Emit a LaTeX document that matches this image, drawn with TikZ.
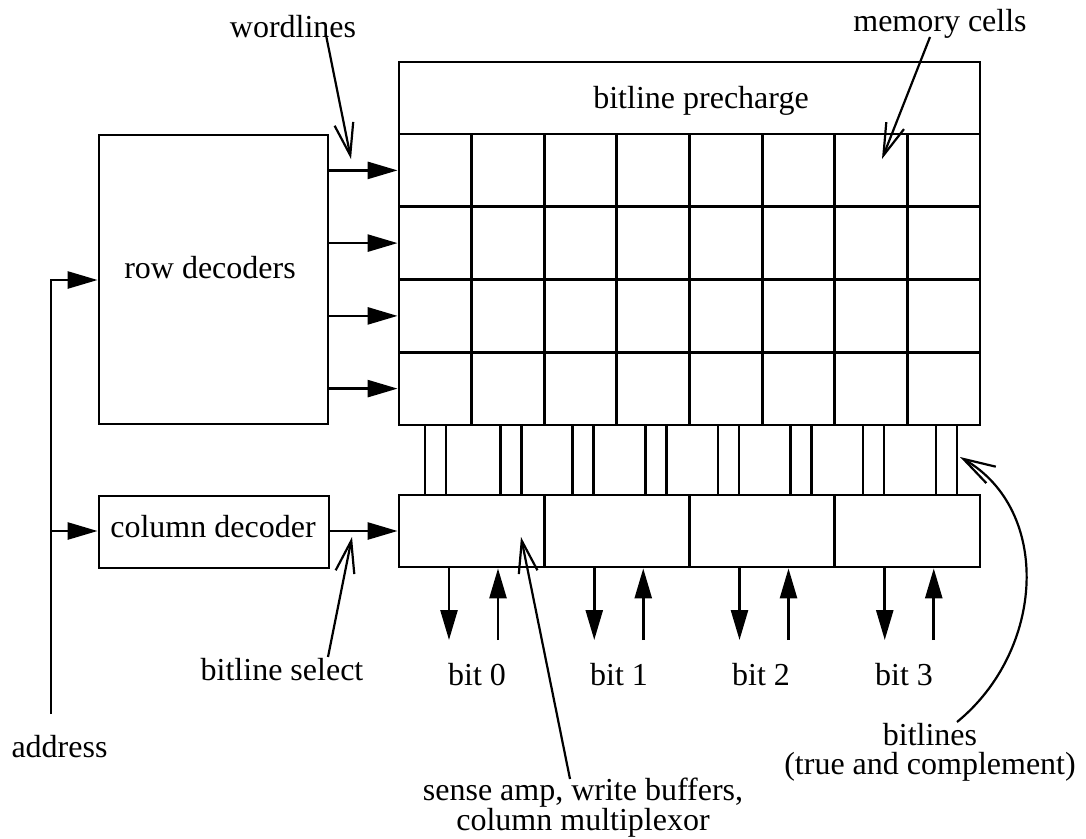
\documentclass[tikz,border=0pt]{standalone}
\usepackage{fontspec}
\setmainfont{Liberation Serif}
\usetikzlibrary{arrows.meta}
\begin{document}
\begin{tikzpicture}[x=1pt,y=-1pt,
  box/.style={draw, line width=2.8pt, inner sep=0pt},
  lbl/.style={inner sep=0pt, anchor=base, font=\fontsize{32}{36}\selectfont},
  sig/.style={line width=2.6pt, -{Triangle[length=30pt,width=17pt]}},
  ptr/.style={line width=2.2pt, -{Straight Barb[length=32pt,width=19pt,line width=2.2pt]}},
  gridline/.style={line width=2.8pt}]
\useasboundingbox (0,0) rectangle (1086,838);

% main blocks
\node[box, minimum width=229pt, minimum height=289pt] (rowdec) at (213.5,279.5) {};
\node[box, minimum width=230pt, minimum height=72pt] (coldec) at (214,532) {};
\node[box, minimum width=581pt, minimum height=72pt] (prech) at (689.5,98) {};
\node[box, minimum width=581pt, minimum height=291pt] (array) at (689.5,279.5) {};
\node[box, minimum width=581pt, minimum height=72pt] (sense) at (689.5,531) {};

% memory cell grid
\foreach \k in {1,...,7}
  \draw[gridline] ({399+72.625*\k},134) -- ({399+72.625*\k},425);
\foreach \y in {206.75,279.5,352.25}
  \draw[gridline] (399,\y) -- (980,\y);

% bitline pairs (true and complement)
\foreach \x in {425,500.5,572.7,645.5,718,790.6,863,936} {
  \draw[gridline] (\x,425) -- (\x,495);
  \draw[gridline] ({\x+21},425) -- ({\x+21},495);
}

% sense amp / write buffer slices
\foreach \x in {544.25,689.5,834.75}
  \draw[gridline] (\x,495) -- (\x,567);

% wordlines
\foreach \y in {170.4,243.1,315.9,388.6}
  \draw[sig] (rowdec.east |- 0,\y) -- (array.west |- 0,\y);

% address bus
\coordinate (abot) at (51,714);
\coordinate (atop) at (51,280);
\coordinate (acol) at (51,531);
\draw[sig] (abot) -- (atop) -- (rowdec.west |- atop);
\draw[sig] (acol) -- (coldec.west |- acol);

% bitline select
\draw[sig] (coldec.east |- 0,531) -- (sense.west |- 0,531);

% data in / out per bit
\foreach \k/\t in {0/477,1/619,2/761,3/904} {
  \pgfmathsetmacro{\L}{399+145.25*\k}
  \coordinate (dout\k) at ({\L+50},640);
  \coordinate (din\k) at ({\L+99},640);
  \draw[sig] (sense.south -| dout\k) -- (dout\k);
  \draw[sig] (din\k) -- (sense.south -| din\k);
  \node[lbl] (bit\k) at (\t,685) {bit \k};
}

% block labels
\node[lbl] (tprech) at (701,108) {bitline precharge};
\node[lbl] (trow) at (210,278) {row decoders};
\node[lbl] (tcol) at (213,537) {column decoder};

% annotations
\node[lbl] (twl) at (293,37) {wordlines};
\node[lbl] (tmem) at (940,31) {memory cells};
\node[lbl] (tsel) at (282,680) {bitline select};
\node[lbl] (taddr) at (59.5,757) {address};
\node[lbl, anchor=center, align=center, font=\fontsize{32}{30}\selectfont]
  (tsa) at (583,808) {sense amp, write buffers,\\column multiplexor};
\node[lbl, anchor=center, align=center, font=\fontsize{32}{29}\selectfont]
  (tbl) at (930,752) {bitlines\\(true and complement)};

% annotation pointers
\coordinate (wlA) at (326,35);   \coordinate (wlB) at (351,159);
\coordinate (mcA) at (930,37);   \coordinate (mcB) at (882,159);
\coordinate (bsA) at (328,657);  \coordinate (bsB) at (352,537);
\coordinate (saA) at (570,779);  \coordinate (saB) at (521,537);
\coordinate (blA) at (957,722);  \coordinate (blB) at (960,457);
\draw[ptr] (wlA) -- (wlB);
\draw[ptr] (mcA) -- (mcB);
\draw[ptr] (bsA) -- (bsB);
\draw[ptr] (saA) -- (saB);
\draw[ptr] (blA) .. controls (1045,650) and (1052,510) .. (blB);
\end{tikzpicture}
\end{document}
